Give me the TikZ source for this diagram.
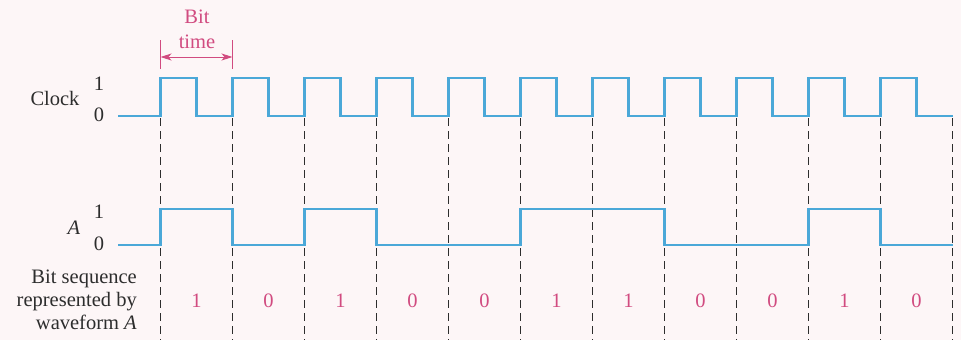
\documentclass[tikz,border=0pt]{standalone}
\usepackage{fontspec}
\setmainfont{Liberation Serif}
\usetikzlibrary{arrows.meta}
\definecolor{wave}{RGB}{75,168,216}
\definecolor{bitpink}{RGB}{209,75,128}
\definecolor{paper}{RGB}{253,246,247}
\definecolor{ink}{RGB}{45,45,45}
\begin{document}
\begin{tikzpicture}[x=1pt,y=-1pt,
  lbl/.style={font=\fontsize{20.5}{23}\selectfont, text=ink, inner sep=0pt},
  bitlbl/.style={lbl, text=bitpink},
  signal/.style={draw=wave, line width=2.2pt, line join=miter},
  guide/.style={draw=ink, line width=1pt, dash pattern=on 8pt off 5pt},
  span/.style={draw=bitpink, line width=1pt},
  spanarrow/.style={span, {Stealth[length=11pt,width=7pt,inset=3pt]}-{Stealth[length=11pt,width=7pt,inset=3pt]}}]
\fill[paper] (0,0) rectangle (961,340);
\useasboundingbox (0,0) rectangle (961,340);

% dashed guides at every clock rising edge
\foreach \k in {0,...,11} {
  \coordinate (gt\k) at (160.5+72*\k,118);
  \coordinate (gb\k) at (160.5+72*\k,340);
  \draw[guide] (gt\k) -- (gb\k);
}

% clock waveform
\draw[signal] (118,116)
  foreach \k in {0,...,10} {
    -- (160.5+72*\k,116) -- (160.5+72*\k,78) -- (196.5+72*\k,78) -- (196.5+72*\k,116)
  } -- (952.5,116);

% waveform A : 1 0 1 0 0 1 1 0 0 1 0
\draw[signal] (118,245) -- (160.5,245) -- (160.5,209) -- (232.5,209) -- (232.5,245)
  -- (304.5,245) -- (304.5,209) -- (376.5,209) -- (376.5,245) -- (520.5,245)
  -- (520.5,209) -- (664.5,209) -- (664.5,245) -- (808.5,245) -- (808.5,209)
  -- (880.5,209) -- (880.5,245) -- (952.5,245);

% labels
\node[lbl] (clk) at (55,98) {Clock};
\node[lbl] (clk1) at (99,84) {1};
\node[lbl] (clk0) at (99,115) {0};
\node[lbl] (sigA) at (74,228) {\itshape A};
\node[lbl] (a1) at (99,212) {1};
\node[lbl] (a0) at (99,244) {0};
\node[lbl, align=right, anchor=east] (seq) at (137,300)
  {Bit sequence\\represented by\\waveform \textit{A}};

% bit values
\foreach \b [count=\i from 0] in {1,0,1,0,0,1,1,0,0,1,0}
  \node[bitlbl] (bit\i) at (196.5+72*\i,301) {\b};

% bit time marker
\coordinate (bl1) at (160.5,40); \coordinate (bl2) at (160.5,69);
\coordinate (br1) at (232.5,40); \coordinate (br2) at (232.5,69);
\coordinate (al) at (160.5,57); \coordinate (ar) at (232.5,57);
\draw[span] (bl1) -- (bl2);
\draw[span] (br1) -- (br2);
\draw[spanarrow] (al) -- (ar);
\node[bitlbl] (bt1) at (197,17) {Bit};
\node[bitlbl] (bt2) at (197,42) {time};
\end{tikzpicture}
\end{document}
